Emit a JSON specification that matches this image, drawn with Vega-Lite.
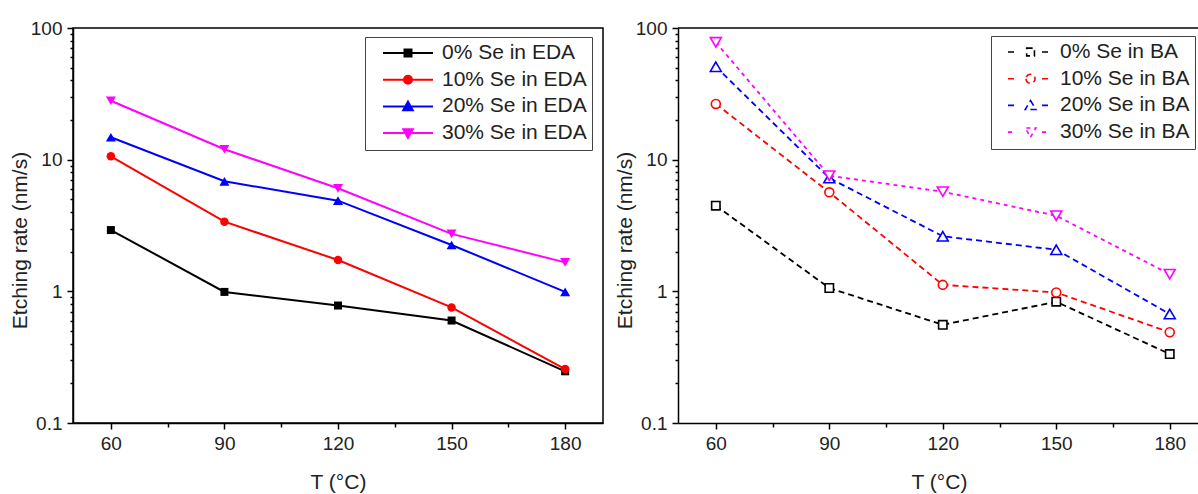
{
  "$schema": "https://vega.github.io/schema/vega-lite/v6.json",
  "background": "white",
  "padding": {"left": 8, "top": 18, "right": 0, "bottom": 0},
  "spacing": 10,
  "resolve": {"scale": {"color": "independent", "shape": "independent", "fill": "independent", "strokeDash": "independent"}},
  "config": {
    "font": "Liberation Sans",
    "view": {"stroke": null},
    "legend": {"symbolOpacity": 1},
    "axis": {"grid": false, "domainColor": "black", "domainWidth": 1.5, "tickColor": "black", "tickWidth": 1.5, "labelFontSize": 19, "labelColor": "#222", "titleFontSize": 21, "titleFontWeight": "normal", "titleColor": "#222", "labelFont": "Liberation Sans", "titleFont": "Liberation Sans"}
  },
  "datasets": {
    "eda": [
      {"series": "0% Se in EDA", "T": 60, "rate": 2.92},
      {"series": "0% Se in EDA", "T": 90, "rate": 0.99},
      {"series": "0% Se in EDA", "T": 120, "rate": 0.78},
      {"series": "0% Se in EDA", "T": 150, "rate": 0.60},
      {"series": "0% Se in EDA", "T": 180, "rate": 0.247},
      {"series": "10% Se in EDA", "T": 60, "rate": 10.6},
      {"series": "10% Se in EDA", "T": 90, "rate": 3.38},
      {"series": "10% Se in EDA", "T": 120, "rate": 1.73},
      {"series": "10% Se in EDA", "T": 150, "rate": 0.755},
      {"series": "10% Se in EDA", "T": 180, "rate": 0.257},
      {"series": "20% Se in EDA", "T": 60, "rate": 14.8},
      {"series": "20% Se in EDA", "T": 90, "rate": 6.85},
      {"series": "20% Se in EDA", "T": 120, "rate": 4.88},
      {"series": "20% Se in EDA", "T": 150, "rate": 2.25},
      {"series": "20% Se in EDA", "T": 180, "rate": 0.99},
      {"series": "30% Se in EDA", "T": 60, "rate": 28.0},
      {"series": "30% Se in EDA", "T": 90, "rate": 12.0},
      {"series": "30% Se in EDA", "T": 120, "rate": 6.06},
      {"series": "30% Se in EDA", "T": 150, "rate": 2.73},
      {"series": "30% Se in EDA", "T": 180, "rate": 1.66}
    ],
    "ba": [
      {"series": "0% Se in BA", "T": 60, "rate": 4.47},
      {"series": "0% Se in BA", "T": 90, "rate": 1.06},
      {"series": "0% Se in BA", "T": 120, "rate": 0.557},
      {"series": "0% Se in BA", "T": 150, "rate": 0.834},
      {"series": "0% Se in BA", "T": 180, "rate": 0.334},
      {"series": "10% Se in BA", "T": 60, "rate": 26.5},
      {"series": "10% Se in BA", "T": 90, "rate": 5.65},
      {"series": "10% Se in BA", "T": 120, "rate": 1.12},
      {"series": "10% Se in BA", "T": 150, "rate": 0.98},
      {"series": "10% Se in BA", "T": 180, "rate": 0.489},
      {"series": "20% Se in BA", "T": 60, "rate": 50.8},
      {"series": "20% Se in BA", "T": 90, "rate": 7.25},
      {"series": "20% Se in BA", "T": 120, "rate": 2.62},
      {"series": "20% Se in BA", "T": 150, "rate": 2.07},
      {"series": "20% Se in BA", "T": 180, "rate": 0.673},
      {"series": "30% Se in BA", "T": 60, "rate": 77.8},
      {"series": "30% Se in BA", "T": 90, "rate": 7.55},
      {"series": "30% Se in BA", "T": 120, "rate": 5.71},
      {"series": "30% Se in BA", "T": 150, "rate": 3.75},
      {"series": "30% Se in BA", "T": 180, "rate": 1.35}
    ]
  },
  "hconcat": [
    {
      "width": 530,
      "height": 395,
      "view": {"stroke": "black", "strokeWidth": 1.5},
      "data": {"name": "eda"},
      "encoding": {
        "x": {"field": "T", "type": "quantitative", "scale": {"domain": [50, 190]},
          "axis": {"values": [60, 75, 90, 105, 120, 135, 150, 165, 180], "labelExpr": "datum.value % 30 == 0 ? datum.label : ''", "tickSize": {"condition": {"test": "datum.value % 30 == 0", "value": 6}, "value": 4}, "labelPadding": 5, "titlePadding": 18, "title": "T (°C)", "labelFlush": false}},
        "y": {"field": "rate", "type": "quantitative", "scale": {"type": "log", "domain": [0.1, 100]},
          "axis": {"values": [0.1, 0.2, 0.3, 0.4, 0.5, 0.6, 0.7, 0.8, 0.9, 1, 2, 3, 4, 5, 6, 7, 8, 9, 10, 20, 30, 40, 50, 60, 70, 80, 90, 100], "format": "~g", "labelExpr": "(datum.value == 0.1 || datum.value == 1 || datum.value == 10 || datum.value == 100) ? datum.label : ''", "tickSize": {"condition": {"test": "datum.value == 0.1 || datum.value == 1 || datum.value == 10 || datum.value == 100", "value": 6}, "value": 3}, "labelPadding": 5, "titlePadding": 0, "titleY": 212, "title": "Etching rate (nm/s)", "labelFlush": false}}
      },
      "layer": [
        {
          "mark": {"type": "line", "strokeWidth": 2},
          "encoding": {
            "color": {"field": "series", "type": "nominal", "scale": {"domain": ["0% Se in EDA", "10% Se in EDA", "20% Se in EDA", "30% Se in EDA"], "range": ["black", "red", "blue", "magenta"]},
              "legend": {
                "title": null, "orient": "none", "legendX": 292, "legendY": 9,
                "padding": 5, "strokeColor": "#444", "fillColor": "white",
                "symbolSize": 2500, "symbolOpacity": 1, "symbolStrokeWidth": 2, "clipHeight": 22, "rowPadding": 4.7,
                "symbolOffset": 12, "labelOffset": 8, "labelFontSize": 21, "labelColor": "#222", "labelFont": "Liberation Sans",
                "labelExpr": "datum.label + ' '"
              }}
          }
        },
        {
          "transform": [{"filter": "datum.series == '0% Se in EDA'"}],
          "mark": {"type": "point", "shape": "square", "filled": true, "opacity": 1, "size": 64, "color": "black"}
        },
        {
          "transform": [{"filter": "datum.series == '10% Se in EDA'"}],
          "mark": {"type": "point", "shape": "circle", "filled": true, "opacity": 1, "size": 72, "color": "red"}
        },
        {
          "transform": [{"filter": "datum.series == '20% Se in EDA'"}],
          "mark": {"type": "point", "shape": "triangle-up", "filled": true, "opacity": 1, "size": 100, "color": "blue"}
        },
        {
          "transform": [{"filter": "datum.series == '30% Se in EDA'"}],
          "mark": {"type": "point", "shape": "triangle-down", "filled": true, "opacity": 1, "size": 100, "color": "magenta"}
        },
        {
          "mark": {"type": "point", "filled": false, "opacity": 0.01},
          "encoding": {
            "color": {"field": "series", "type": "nominal"},
            "fill": {"field": "series", "type": "nominal", "scale": {"domain": ["0% Se in EDA", "10% Se in EDA", "20% Se in EDA", "30% Se in EDA"], "range": ["black", "red", "blue", "magenta"]}},
            "shape": {"field": "series", "type": "nominal", "scale": {"domain": ["0% Se in EDA", "10% Se in EDA", "20% Se in EDA", "30% Se in EDA"], "range": ["M-1,0H1M-0.14,-0.14H0.14V0.14H-0.14Z", "M-1,0H1M-0.16,0A0.16,0.16,0,1,0,0.16,0A0.16,0.16,0,1,0,-0.16,0Z", "M-1,0H1M0,-0.19L0.19,0.15L-0.19,0.15Z", "M-1,0H1M0,0.19L0.19,-0.15L-0.19,-0.15Z"]}}
          }
        }
      ]
    },
    {
      "width": 522,
      "height": 395,
      "data": {"name": "ba"},
      "encoding": {
        "x": {"field": "T", "type": "quantitative", "scale": {"domain": [50, 188]},
          "axis": {"values": [60, 75, 90, 105, 120, 135, 150, 165, 180], "labelExpr": "datum.value % 30 == 0 ? datum.label : ''", "tickSize": {"condition": {"test": "datum.value % 30 == 0", "value": 6}, "value": 4}, "labelPadding": 5, "titlePadding": 18, "title": "T (°C)", "labelFlush": false}},
        "y": {"field": "rate", "type": "quantitative", "scale": {"type": "log", "domain": [0.1, 100]},
          "axis": {"values": [0.1, 0.2, 0.3, 0.4, 0.5, 0.6, 0.7, 0.8, 0.9, 1, 2, 3, 4, 5, 6, 7, 8, 9, 10, 20, 30, 40, 50, 60, 70, 80, 90, 100], "format": "~g", "labelExpr": "(datum.value == 0.1 || datum.value == 1 || datum.value == 10 || datum.value == 100) ? datum.label : ''", "tickSize": {"condition": {"test": "datum.value == 0.1 || datum.value == 1 || datum.value == 10 || datum.value == 100", "value": 6}, "value": 3}, "labelPadding": 5, "titlePadding": 0, "titleY": 212, "title": "Etching rate (nm/s)", "labelFlush": false}}
      },
      "layer": [
        {
          "transform": [{"filter": "datum.T == 60 && datum.series == '0% Se in BA'"}],
          "mark": {"type": "rule", "color": "black", "strokeWidth": 1.5},
          "encoding": {"x": null, "y": {"datum": 100}}
        },
        {
          "mark": {"type": "line", "strokeWidth": 1.8},
          "encoding": {
            "strokeDash": {"field": "series", "type": "nominal", "scale": {"domain": ["0% Se in BA", "10% Se in BA", "20% Se in BA", "30% Se in BA"], "range": [[6, 4], [6, 4], [6, 4], [4, 4]]}, "legend": null},
            "color": {"field": "series", "type": "nominal", "scale": {"domain": ["0% Se in BA", "10% Se in BA", "20% Se in BA", "30% Se in BA"], "range": ["black", "red", "blue", "magenta"]},
              "legend": {
                "title": null, "orient": "none", "legendX": 313, "legendY": 8,
                "padding": 5, "strokeColor": "#444", "fillColor": "white",
                "symbolSize": 1681, "symbolOpacity": 1, "symbolStrokeWidth": 1.6, "symbolFillColor": "white", "symbolDash": [1, 0], "clipHeight": 22, "rowPadding": 4.7,
                "symbolOffset": 11, "labelOffset": 10, "labelFontSize": 21, "labelColor": "#222", "labelFont": "Liberation Sans"
              }}
          }
        },
        {
          "transform": [{"filter": "datum.series == '0% Se in BA'"}],
          "mark": {"type": "point", "shape": "square", "filled": false, "fill": "white", "opacity": 1, "size": 70, "strokeWidth": 1.6, "color": "black"}
        },
        {
          "transform": [{"filter": "datum.series == '10% Se in BA'"}],
          "mark": {"type": "point", "shape": "circle", "filled": false, "fill": "white", "opacity": 1, "size": 80, "strokeWidth": 1.6, "color": "red"}
        },
        {
          "transform": [{"filter": "datum.series == '20% Se in BA'"}],
          "mark": {"type": "point", "shape": "triangle-up", "filled": false, "fill": "white", "opacity": 1, "size": 120, "strokeWidth": 1.6, "color": "blue"}
        },
        {
          "transform": [{"filter": "datum.series == '30% Se in BA'"}],
          "mark": {"type": "point", "shape": "triangle-down", "filled": false, "fill": "white", "opacity": 1, "size": 120, "strokeWidth": 1.6, "color": "magenta"}
        },
        {
          "mark": {"type": "point", "filled": false, "opacity": 0.01},
          "encoding": {
            "color": {"field": "series", "type": "nominal"},
            "shape": {"field": "series", "type": "nominal", "scale": {"domain": ["0% Se in BA", "10% Se in BA", "20% Se in BA", "30% Se in BA"], "range": ["M-1,0H-0.62M0.66,0H1M-0.09,-0.19H0.29V0.19H-0.09Z", "M-1,0H-0.62M0.66,0H1M-0.12,0A0.22,0.22,0,1,0,0.32,0A0.22,0.22,0,1,0,-0.12,0Z", "M-1,0H-0.62M0.66,0H1M0.1,-0.24L0.36,0.2L-0.16,0.2Z", "M-1,0H-0.62M0.66,0H1M0.1,0.24L0.36,-0.2L-0.16,-0.2Z"]}}
          }
        }
      ]
    }
  ]
}
